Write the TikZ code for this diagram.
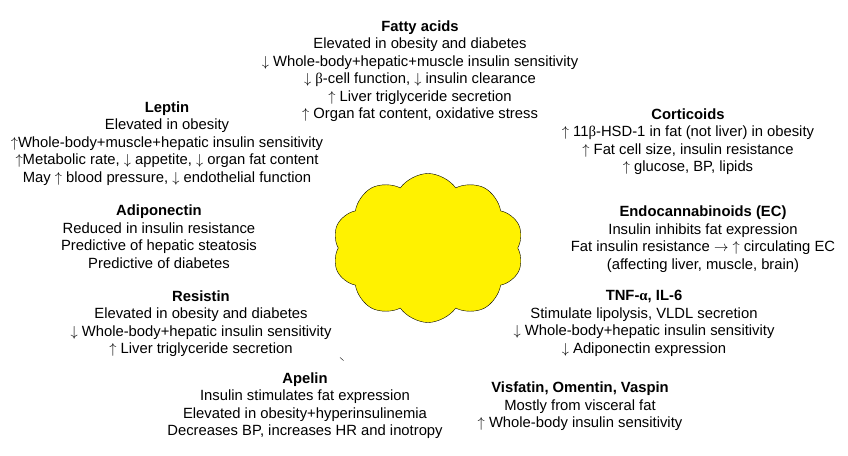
\documentclass[tikz,border=0pt]{standalone}
\usepackage{fontspec}
\setmainfont{Liberation Sans}
\newfontfamily\grk{Liberation Serif}
\usetikzlibrary{shapes.symbols}
\newcommand{\up}{$\uparrow$}
\newcommand{\dn}{$\downarrow$}
\begin{document}
\begin{tikzpicture}[x=1pt,y=-1pt,
    info/.style={align=center,inner sep=0pt,font=\fontsize{14.8}{17.5}\selectfont},
    fat/.style={cloud,cloud puffs=10,cloud puff arc=110,aspect=1.3,draw=black,fill=yellow,
      minimum width=191pt,minimum height=149pt,inner sep=0pt}]
  \useasboundingbox (0,0) rectangle (848,455);
  % adipose tissue
  \node[fat] (tissue) at (428,248) {};
  \draw (340,357.5) -- (343.5,360.5);
  % secreted factors around it
  \node[info] (fatty) at (420,71) {\textbf{Fatty acids}\\
    Elevated in obesity and diabetes\\
    \dn{} Whole-body+hepatic+muscle insulin sensitivity\\
    \dn{} {\grk β}-cell function, \dn{} insulin clearance\\
    \up{} Liver triglyceride secretion\\
    \up{} Organ fat content, oxidative stress};
  \node[info] (leptin) at (167,143.5) {\textbf{Leptin}\\
    Elevated in obesity\\
    \up Whole-body+muscle+hepatic insulin sensitivity\\
    \up Metabolic rate, \dn{} appetite, \dn{} organ fat content\\
    May \up{} blood pressure, \dn{} endothelial function};
  \node[info] (cortic) at (688,141.5) {\textbf{Corticoids}\\
    \up{} 11{\grk β}-HSD-1 in fat (not liver) in obesity\\
    \up{} Fat cell size, insulin resistance\\
    \up{} glucose, BP, lipids};
  \node[info] (adipo) at (159,236.5) {\textbf{Adiponectin}\\
    Reduced in insulin resistance\\
    Predictive of hepatic steatosis\\
    Predictive of diabetes};
  \node[info] (endo) at (703,239) {\textbf{Endocannabinoids (EC)}\\
    Insulin inhibits fat expression\\
    Fat insulin resistance $\rightarrow$ \up{} circulating EC\\
    (affecting liver, muscle, brain)};
  \node[info] (resist) at (201,323.5) {\textbf{Resistin}\\
    Elevated in obesity and diabetes\\
    \dn{} Whole-body+hepatic insulin sensitivity\\
    \up{} Liver triglyceride secretion};
  \node[info] (tnf) at (644,323.5) {\textbf{TNF-{\grk α}, IL-6}\\
    Stimulate lipolysis, VLDL secretion\\
    \dn{} Whole-body+hepatic insulin sensitivity\\
    \dn{} Adiponectin expression};
  \node[info] (apelin) at (305,405.5) {\textbf{Apelin}\\
    Insulin stimulates fat expression\\
    Elevated in obesity+hyperinsulinemia\\
    Decreases BP, increases HR and inotropy};
  \node[info] (visf) at (580,406.5) {\textbf{Visfatin, Omentin, Vaspin}\\
    Mostly from visceral fat\\
    \up{} Whole-body insulin sensitivity};
\end{tikzpicture}
\end{document}
